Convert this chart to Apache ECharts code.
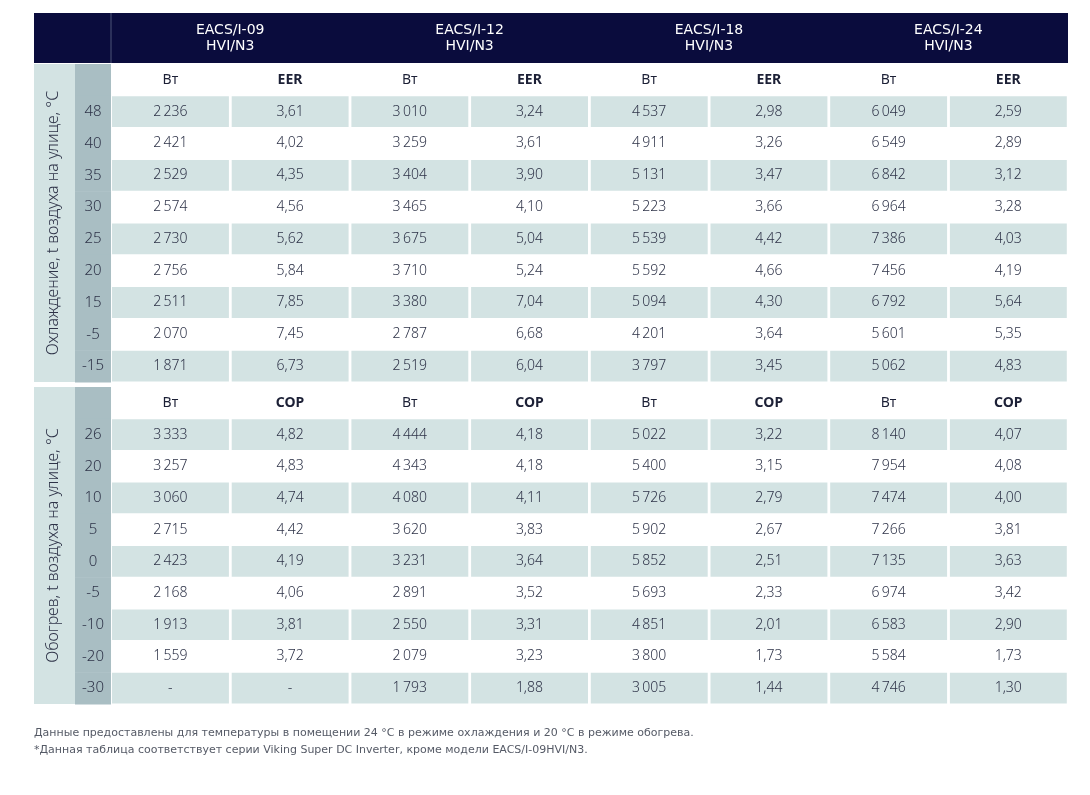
<!DOCTYPE html>
<html>
<head>
<meta charset="utf-8">
<script src="https://cdn.jsdelivr.net/npm/echarts@6/dist/echarts.min.js"></script>
<style>
html, body { margin: 0; padding: 0; background: #fff; }
#main { width: 1090px; height: 795px; }
</style>
</head>
<body>
<div id="main"></div>
<script>
// модели и температуры
var models = ['EACS/I-09', 'EACS/I-12', 'EACS/I-18', 'EACS/I-24'];
var modelSuffix = 'HVI/N3';
var coolTemps = ['48', '40', '35', '30', '25', '20', '15', '-5', '-15'];
var heatTemps = ['26', '20', '10', '5', '0', '-5', '-10', '-20', '-30'];

// охлаждение: мощность, Вт и EER
var cool09W = [2236, 2421, 2529, 2574, 2730, 2756, 2511, 2070, 1871];
var cool09EER = [3.61, 4.02, 4.35, 4.56, 5.62, 5.84, 7.85, 7.45, 6.73];
var cool12W = [3010, 3259, 3404, 3465, 3675, 3710, 3380, 2787, 2519];
var cool12EER = [3.24, 3.61, 3.90, 4.10, 5.04, 5.24, 7.04, 6.68, 6.04];
var cool18W = [4537, 4911, 5131, 5223, 5539, 5592, 5094, 4201, 3797];
var cool18EER = [2.98, 3.26, 3.47, 3.66, 4.42, 4.66, 4.30, 3.64, 3.45];
var cool24W = [6049, 6549, 6842, 6964, 7386, 7456, 6792, 5601, 5062];
var cool24EER = [2.59, 2.89, 3.12, 3.28, 4.03, 4.19, 5.64, 5.35, 4.83];

// обогрев: мощность, Вт и COP
var heat09W = [3333, 3257, 3060, 2715, 2423, 2168, 1913, 1559, null];
var heat09COP = [4.82, 4.83, 4.74, 4.42, 4.19, 4.06, 3.81, 3.72, null];
var heat12W = [4444, 4343, 4080, 3620, 3231, 2891, 2550, 2079, 1793];
var heat12COP = [4.18, 4.18, 4.11, 3.83, 3.64, 3.52, 3.31, 3.23, 1.88];
var heat18W = [5022, 5400, 5726, 5902, 5852, 5693, 4851, 3800, 3005];
var heat18COP = [3.22, 3.15, 2.79, 2.67, 2.51, 2.33, 2.01, 1.73, 1.44];
var heat24W = [8140, 7954, 7474, 7266, 7135, 6974, 6583, 5584, 4746];
var heat24COP = [4.07, 4.08, 4.00, 3.81, 3.63, 3.42, 2.90, 1.73, 1.30];

var coolLabel = 'Охлаждение, t воздуха на улице, °C';
var heatLabel = 'Обогрев, t воздуха на улице, °C';
var notes = [
    'Данные предоставлены для температуры в помещении 24 °C в режиме охлаждения и 20 °C в режиме обогрева.',
    '*Данная таблица соответствует серии Viking Super DC Inverter, кроме модели EACS/I-09HVI/N3.'
];

var FONT = "'Noto Sans', 'DejaVu Sans', sans-serif";
var WIDE = "'DejaVu Sans', 'Noto Sans', sans-serif";
var NAVY = '#0a0c3d';
var SHADE = '#d3e3e3';
var TEMP_BG = '#a9bec3';
var TEXT = '#2e3348';

function fmtW(v) {
    if (v == null) return '-';
    return String(v).replace(/\B(?=(\d{3})+(?!\d))/g, '\u2009');
}
function fmtK(v) {
    if (v == null) return '-';
    return v.toFixed(2).replace('.', ',');
}

var myChart = echarts.init(document.getElementById('main'));

var sections = [
    { top: 64, height: 318, temps: coolTemps, label: coolLabel, ratio: 'EER',
      cols: [cool09W, cool09EER, cool12W, cool12EER, cool18W, cool18EER, cool24W, cool24EER] },
    { top: 387, height: 317, temps: heatTemps, label: heatLabel, ratio: 'COP',
      cols: [heat09W, heat09COP, heat12W, heat12COP, heat18W, heat18COP, heat24W, heat24COP] }
];

var grids = [], xAxes = [], yAxes = [], series = [];

function addGrid(left, width, top, height, xCats, yCats) {
    var idx = grids.length;
    grids.push({ left: left, width: width, top: top, height: height });
    xAxes.push({ type: 'category', gridIndex: idx, data: xCats, show: false });
    yAxes.push({ type: 'category', gridIndex: idx, data: yCats, inverse: true, show: false });
    return idx;
}

// шапка с моделями (фон рисуется одним прямоугольником в graphic)
var hg = addGrid(110.5, 957.6, 13, 50, models, ['h']);
series.push({
    type: 'custom',
    xAxisIndex: hg, yAxisIndex: hg,
    data: models.map(function (m, i) { return [i, 0]; }),
    renderItem: function (params, api) {
        var c = api.coord([api.value(0), api.value(1)]);
        return {
            type: 'text',
            style: {
                x: c[0], y: c[1] + 0.5,
                text: models[params.dataIndex] + '\n' + modelSuffix,
                align: 'center', verticalAlign: 'middle',
                fill: '#ffffff', font: '400 14px ' + WIDE, lineHeight: 16
            }
        };
    }
});

sections.forEach(function (sec) {
    var rows = ['head'].concat(sec.temps);

    // подпись слева
    var lg = addGrid(34, 41, sec.top, sec.height, ['l'], rows);
    series.push({
        type: 'custom',
        xAxisIndex: lg, yAxisIndex: lg,
        data: [[0, 0]],
        renderItem: function (params, api) {
            var a = api.coord([0, 0]);
            var b = api.coord([0, rows.length - 1]);
            var s = api.size([1, 1]);
            var y0 = a[1] - s[1] / 2, y1 = b[1] + s[1] / 2;
            return {
                type: 'group',
                children: [{
                    type: 'rect',
                    shape: { x: a[0] - s[0] / 2, y: y0, width: s[0], height: y1 - y0 },
                    style: { fill: SHADE }
                }, {
                    type: 'text',
                    x: a[0] - 1, y: (y0 + y1) / 2,
                    rotation: Math.PI / 2,
                    style: {
                        x: 0, y: 0, text: sec.label,
                        align: 'center', verticalAlign: 'middle',
                        fill: TEXT, font: '300 16px ' + FONT
                    }
                }]
            };
        }
    });

    // столбец температур
    var tg = addGrid(75, 36, sec.top, sec.height, ['t'], rows);
    series.push({
        type: 'custom',
        xAxisIndex: tg, yAxisIndex: tg,
        data: rows.map(function (r, i) { return [0, i]; }),
        renderItem: function (params, api) {
            var c = api.coord([0, api.value(1)]);
            var s = api.size([1, 1]);
            var i = params.dataIndex;
            return {
                type: 'group',
                children: [{
                    type: 'rect',
                    shape: { x: c[0] - s[0] / 2, y: c[1] - s[1] / 2, width: s[0], height: s[1] + 0.5 },
                    style: { fill: TEMP_BG }
                }, {
                    type: 'text',
                    style: {
                        x: c[0], y: c[1], text: i === 0 ? '' : rows[i],
                        align: 'center', verticalAlign: 'middle',
                        fill: TEXT, font: '300 15px ' + FONT
                    }
                }]
            };
        }
    });

    // ячейки с данными
    var colCats = ['0', '1', '2', '3', '4', '5', '6', '7'];
    var dg = addGrid(110.5, 957.6, sec.top, sec.height, colCats, rows);
    var cells = [];
    sec.cols.forEach(function (arr, ci) {
        var isRatio = ci % 2 === 1;
        cells.push({ value: [ci, 0], text: isRatio ? sec.ratio : 'Вт', head: true, bold: isRatio });
        arr.forEach(function (v, ri) {
            cells.push({ value: [ci, ri + 1], text: isRatio ? fmtK(v) : fmtW(v), head: false });
        });
    });
    series.push({
        type: 'custom',
        xAxisIndex: dg, yAxisIndex: dg,
        data: cells.map(function (d) { return d.value; }),
        renderItem: function (params, api) {
            var d = cells[params.dataIndex];
            var c = api.coord([api.value(0), api.value(1)]);
            var s = api.size([1, 1]);
            var children = [];
            if (!d.head && d.value[1] % 2 === 1) {
                children.push({
                    type: 'rect',
                    shape: { x: c[0] - s[0] / 2 + 1.5, y: c[1] - s[1] / 2 + 0.5, width: s[0] - 2.8, height: s[1] - 1 },
                    style: { fill: SHADE }
                });
            }
            var font = d.head ? ((d.bold ? '700 ' : '400 ') + '14px ' + FONT) : ('300 14px ' + FONT);
            children.push({
                type: 'text',
                style: {
                    x: c[0], y: c[1], text: d.text,
                    align: 'center', verticalAlign: 'middle',
                    fill: d.head ? '#1c2036' : TEXT, font: font
                }
            });
            return { type: 'group', children: children };
        }
    });
});

var option = {
    backgroundColor: '#ffffff',
    animation: false,
    grid: grids,
    xAxis: xAxes,
    yAxis: yAxes,
    series: series,
    graphic: [
        { type: 'rect', z: -1, shape: { x: 34, y: 13, width: 1034, height: 50 }, style: { fill: NAVY } },
        { type: 'line', shape: { x1: 111, y1: 13, x2: 111, y2: 63 }, style: { stroke: '#4c5478', lineWidth: 1 } },
        { type: 'text', x: 34, y: 733, style: { text: notes[0], fill: '#555a66', font: '11px ' + WIDE, verticalAlign: 'middle' } },
        { type: 'text', x: 34, y: 750, style: { text: notes[1], fill: '#555a66', font: '11px ' + WIDE, verticalAlign: 'middle' } }
    ]
};
myChart.setOption(option);
</script>
</body>
</html>
